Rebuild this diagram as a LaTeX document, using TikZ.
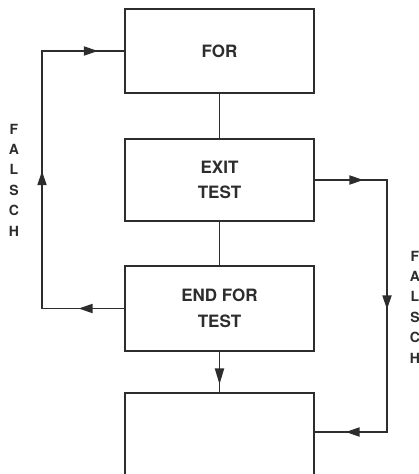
\documentclass[tikz,border=0pt]{standalone}
\usepackage{fontspec}
\setmainfont{TeX Gyre Heros}
\usetikzlibrary{arrows.meta,decorations.markings}
\definecolor{ink}{RGB}{45,45,45}
\tikzset{
  box/.style={draw=ink, line width=2.8pt, minimum width=189pt, inner sep=0pt, fill=white,
    font=\fontsize{17}{25.5}\selectfont\bfseries, text=ink, align=center},
  conn/.style={draw=ink, line width=1.9pt},
  lbl/.style={font=\fontsize{14}{20.4}\selectfont\bfseries, text=ink, align=center, inner sep=0pt},
}
\begin{document}
\begin{tikzpicture}[x=1pt,y=-1pt]
\useasboundingbox (0,0) rectangle (419,474);
\clip (0,0) rectangle (419,474);
\node[box, minimum height=84pt] (for) at (219.5,51) {FOR};
\node[box, minimum height=82pt] (exit) at (219.5,180) {EXIT\\TEST};
\node[box, minimum height=85pt] (endf) at (219.5,308.5) {END FOR\\TEST};
\node[box, minimum height=90pt] (last) at (219.5,438) {};
\coordinate (l1) at (42,308.5);
\coordinate (l2) at (42,51);
\coordinate (r1) at (387,180);
\coordinate (r2) at (387,432);
\draw[conn] (for) -- (exit);
\draw[conn] (exit) -- (endf);
\draw[conn, postaction={decorate}, decoration={markings, mark=at position 32pt with {\arrow[ink]{Triangle[length=16pt,width=9pt]}}}] (endf) -- (last);
\draw[conn, postaction={decorate}, decoration={markings,
   mark=at position 45pt with {\arrow[ink]{Triangle[length=14pt,width=9pt]}},
   mark=at position 219pt with {\arrow[ink]{Triangle[length=14pt,width=9pt]}},
   mark=at position 395pt with {\arrow[ink]{Triangle[length=14pt,width=9pt]}}}]
   (endf.west) -- (l1) -- (l2) -- (for.west);
\draw[conn, postaction={decorate}, decoration={markings,
   mark=at position 48pt with {\arrow[ink]{Triangle[length=14pt,width=9pt]}},
   mark=at position 201pt with {\arrow[ink]{Triangle[length=14pt,width=9pt]}},
   mark=at position 365pt with {\arrow[ink]{Triangle[length=14pt,width=9pt]}}}]
   (exit.east |- r1) -- (r1) -- (r2) -- (r2 -| last.east);
\node[lbl] (fl) at (14,180) {F\\A\\L\\S\\C\\H};
\node[lbl] (fr) at (415,307) {F\\A\\L\\S\\C\\H};
\end{tikzpicture}
\end{document}
